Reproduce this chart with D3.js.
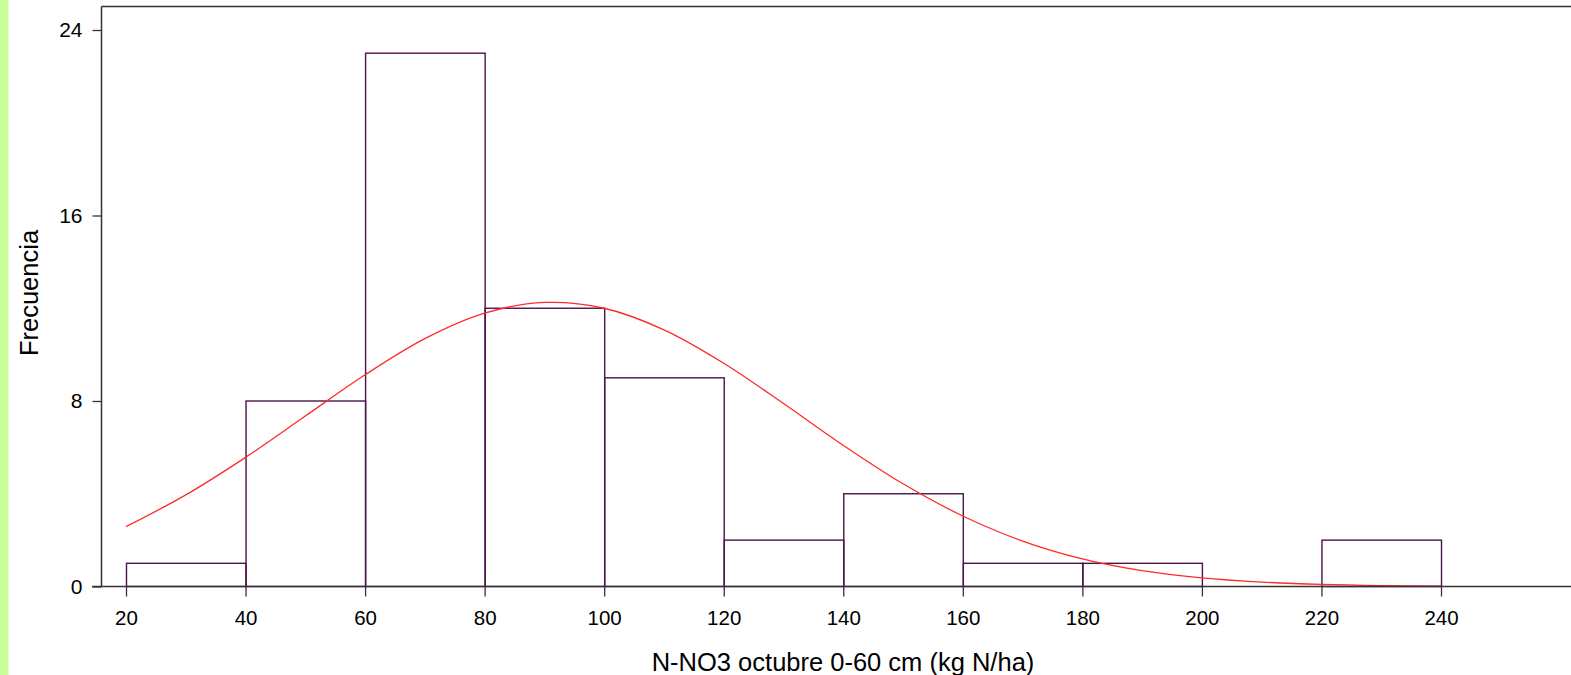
<!DOCTYPE html>
<html>
<head>
<meta charset="utf-8">
<script src="https://cdn.jsdelivr.net/npm/d3@7"></script>
<style>
  html, body { margin: 0; padding: 0; background: #fff; }
  svg { display: block; }
  text { font-family: "Liberation Sans", Arial, sans-serif; fill: #000; }
</style>
</head>
<body>
<svg id="chart" width="1571" height="675"></svg>
<script>
// ---- data ----
const binStarts = [20, 40, 60, 80, 100, 120, 140, 160, 180, 200, 220];
const binWidth = 20;
const counts = [1, 8, 23, 12, 9, 2, 4, 1, 1, 0, 2];
const curveX = [20, 30, 40, 50, 60, 70, 80, 90, 100, 110, 120, 130, 140, 150, 160, 170, 180, 190, 200, 210, 220, 230, 240];
const curveY = [2.58, 3.95, 5.57, 7.35, 9.13, 10.69, 11.79, 12.25, 12.00, 11.07, 9.63, 7.89, 6.09, 4.43, 3.04, 1.96, 1.19, 0.68, 0.37, 0.19, 0.09, 0.04, 0.02];
const xTicks = [20, 40, 60, 80, 100, 120, 140, 160, 180, 200, 220, 240];
const yTicks = [0, 8, 16, 24];
const xTitle = "N-NO3 octubre 0-60 cm (kg N/ha)";
const yTitle = "Frecuencia";

// ---- layout ----
const svg = d3.select("#chart");
const plotLeft = 101.5, plotTop = 6.5, plotBottom = 586.5, plotRight = 1571;

const x = d3.scaleLinear().domain([20, 240]).range([126, 1441]);
const y = d3.scaleLinear().domain([0, 24]).range([plotBottom, 30]);

// green strip at left
svg.append("rect").attr("x", 0).attr("y", 0).attr("width", 8.5).attr("height", 675).attr("fill", "#ccff99");

// bars
const bars = svg.append("g");
binStarts.forEach((b, i) => {
  if (counts[i] === 0) return;
  bars.append("rect")
    .attr("x", x(b) + 0.5)
    .attr("y", y(counts[i]))
    .attr("width", x(b + binWidth) - x(b))
    .attr("height", y(0) - y(counts[i]))
    .attr("fill", "none")
    .attr("stroke", "#4b124b")
    .attr("stroke-width", 1.4);
});

// fitted curve
const line = d3.line()
  .x(d => x(d[0]))
  .y(d => y(d[1]))
  .curve(d3.curveCatmullRom);
svg.append("path")
  .datum(curveX.map((v, i) => [v, curveY[i]]))
  .attr("d", line)
  .attr("fill", "none")
  .attr("stroke", "#ff2a2a")
  .attr("stroke-width", 1.3);

// frame lines
const frame = svg.append("g").attr("stroke", "#333").attr("stroke-width", 1.5);
frame.append("line").attr("x1", plotLeft).attr("x2", plotLeft).attr("y1", plotTop).attr("y2", plotBottom);
frame.append("line").attr("x1", plotLeft).attr("x2", plotRight).attr("y1", plotTop).attr("y2", plotTop);
frame.append("line").attr("x1", 92).attr("x2", plotRight).attr("y1", plotBottom).attr("y2", plotBottom);

// y axis
const yAxis = d3.axisLeft(y).tickValues(yTicks).tickSize(9).tickPadding(10).tickFormat(d3.format("d"));
const gy = svg.append("g").attr("transform", `translate(${plotLeft},0)`).call(yAxis);
gy.select(".domain").remove();
gy.selectAll(".tick line").attr("stroke", "#333").attr("stroke-width", 1.3);
gy.selectAll(".tick text").attr("font-size", 21).attr("font-family", "Liberation Sans, Arial, sans-serif").attr("fill", "#000");

// x axis
const xAxis = d3.axisBottom(x).tickValues(xTicks).tickSize(10).tickPadding(14).tickFormat(d3.format("d"));
const gx = svg.append("g").attr("transform", `translate(0,${plotBottom})`).call(xAxis);
gx.select(".domain").remove();
gx.selectAll(".tick line").attr("stroke", "#333").attr("stroke-width", 1.3);
gx.selectAll(".tick text").attr("font-size", 20.5).attr("font-family", "Liberation Sans, Arial, sans-serif").attr("fill", "#000");

// titles
svg.append("text")
  .attr("x", 843).attr("y", 671)
  .attr("text-anchor", "middle")
  .attr("font-size", 25.5)
  .text(xTitle);

svg.append("text")
  .attr("transform", "translate(38,293) rotate(-90)")
  .attr("text-anchor", "middle")
  .attr("font-size", 25.5)
  .text(yTitle);
</script>
</body>
</html>
